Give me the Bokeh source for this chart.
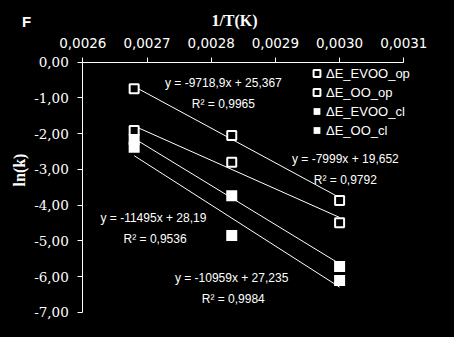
import numpy as np
from bokeh.plotting import figure
from bokeh.models import (ColumnDataSource, FixedTicker, CustomJSTickFormatter, Legend,
                          LegendItem, Label, Range1d)
from bokeh.core.properties import value
from bokeh.embed import file_html
from bokeh.resources import INLINE

# ---- data ----
inv_T = [0.00268, 0.002832, 0.0030]
series_names = ["\u0394E_EVOO_op", "\u0394E_OO_op", "\u0394E_EVOO_cl", "\u0394E_OO_cl"]
evoo_op = [-0.74, -2.05, -3.87]
oo_op = [-1.91, -2.80, -4.49]
evoo_cl = [-2.16, -3.74, -5.72]
oo_cl = [-2.38, -4.85, -6.11]
slopes = [-9718.9, -7999.0, -10959.0, -11495.0]
intercepts = [25.367, 19.652, 27.235, 28.19]
eq_texts = ["y = -9718,9x + 25,367\nR\u00b2 = 0,9965",
            "y = -7999x + 19,652\nR\u00b2 = 0,9792",
            "y = -10959x  + 27,235\nR\u00b2 = 0,9984",
            "y = -11495x  + 28,19\nR\u00b2 = 0,9536"]
eq_x = [0.002819, 0.003009, 0.0028344, 0.0027126]
eq_y = [-0.40, -2.50, -5.83, -4.16]
x_ticks = [0.0026, 0.0027, 0.0028, 0.0029, 0.0030, 0.0031]
y_ticks = [0, -1, -2, -3, -4, -5, -6, -7]

W, H = 454, 337
# frame covers the whole canvas; axes are pinned at fixed data locations
PX_X = 642000.0   # pixels per x unit
PX_Y = 35.73      # pixels per y unit
X0_PX, Y0_PX = 82.3, 61.7
x_start = 0.0026 - X0_PX / PX_X
x_end = 0.0026 + (W - X0_PX) / PX_X
y_end = Y0_PX / PX_Y
y_start = -(H - Y0_PX) / PX_Y

p = figure(width=W, height=H, output_backend="svg", toolbar_location=None,
           x_axis_location="above", title=None,
           x_range=Range1d(x_start, x_end), y_range=Range1d(y_start, y_end),
           min_border_left=0, min_border_right=0, min_border_top=0, min_border_bottom=0)
p.background_fill_color = "black"
p.border_fill_color = "black"
p.outline_line_color = None
p.xgrid.visible = False
p.ygrid.visible = False

for ax in (p.xaxis[0], p.yaxis[0]):
    ax.axis_line_color = "white"
    ax.axis_line_width = 1
    ax.major_tick_line_color = "white"
    ax.major_tick_out = 5
    ax.major_tick_in = 0
    ax.minor_tick_line_color = None
    ax.major_label_text_color = "white"
    ax.major_label_standoff = 9

p.xaxis[0].fixed_location = 0
p.xaxis[0].bounds = (0.0026, 0.0031)
p.xaxis[0].ticker = FixedTicker(ticks=x_ticks)
p.xaxis[0].formatter = CustomJSTickFormatter(code="return tick.toFixed(4).replace('.', ',');")
p.xaxis[0].major_label_text_font = "DejaVu Sans"
p.xaxis[0].major_label_text_font_size = "13.5px"

p.yaxis[0].fixed_location = 0.0026
p.yaxis[0].bounds = (-7, 0)
p.yaxis[0].ticker = FixedTicker(ticks=y_ticks)
p.yaxis[0].formatter = CustomJSTickFormatter(code="return tick.toFixed(2).replace('.', ',').replace('-0,00','0,00');")
p.yaxis[0].major_label_text_font = "DejaVu Serif"
p.yaxis[0].major_label_text_font_size = "13.5px"

# trend lines
x0, x1 = min(inv_T), max(inv_T)
for m, b in zip(slopes, intercepts):
    p.line([x0, x1], [m * x0 + b, m * x1 + b], line_color="white", line_width=1)

# markers
r_list = []
r_list.append(p.scatter(inv_T, evoo_op, marker="square", size=9, fill_color="black",
                        line_color="white", line_width=2))
r_list.append(p.scatter(inv_T, oo_op, marker="square", size=9, fill_color="black",
                        line_color="white", line_width=2))
r_list.append(p.scatter(inv_T, evoo_cl, marker="square", size=11, fill_color="white",
                        line_color=None))
r_list.append(p.scatter(inv_T, oo_cl, marker="square", size=11, fill_color="white",
                        line_color=None))

# equation labels
src = ColumnDataSource(dict(x=eq_x, y=eq_y, t=eq_texts))
p.text(x="x", y="y", text="t", source=src, text_color="white",
       text_font=value("Liberation Sans"), text_font_size="12px",
       text_align="center", text_baseline="top", text_line_height=1.5)

legend = Legend(items=[LegendItem(label=n, renderers=[r]) for n, r in zip(series_names, r_list)],
                location=(308, 198), background_fill_alpha=0, border_line_color=None,
                padding=0, margin=0, spacing=1, glyph_width=17, glyph_height=18,
                label_height=18, label_standoff=1,
                label_text_color="white", label_text_font="Liberation Sans",
                label_text_font_size="13px")
p.add_layout(legend)

p.add_layout(Label(x=234, y=H - 19.5, x_units="screen", y_units="screen", text="1/T(K)",
                   text_color="white", text_font="Liberation Serif", text_font_style="bold",
                   text_font_size="16px", text_align="center", text_baseline="middle"))
p.add_layout(Label(x=18.5, y=H - 169.5, x_units="screen", y_units="screen", text="ln(k)",
                   angle=np.pi / 2, text_color="white", text_font="Liberation Serif",
                   text_font_style="bold", text_font_size="16px", text_align="center",
                   text_baseline="middle"))
p.add_layout(Label(x=26, y=H - 20.5, x_units="screen", y_units="screen", text="F",
                   text_color="white", text_font="Liberation Sans", text_font_style="bold",
                   text_font_size="15px", text_align="center", text_baseline="middle"))

html = file_html(p, INLINE)
html = html.replace("<head>", "<head><style>html,body{background:#000;margin:0;padding:0;}</style>", 1)
open("out.html", "w").write(html)
